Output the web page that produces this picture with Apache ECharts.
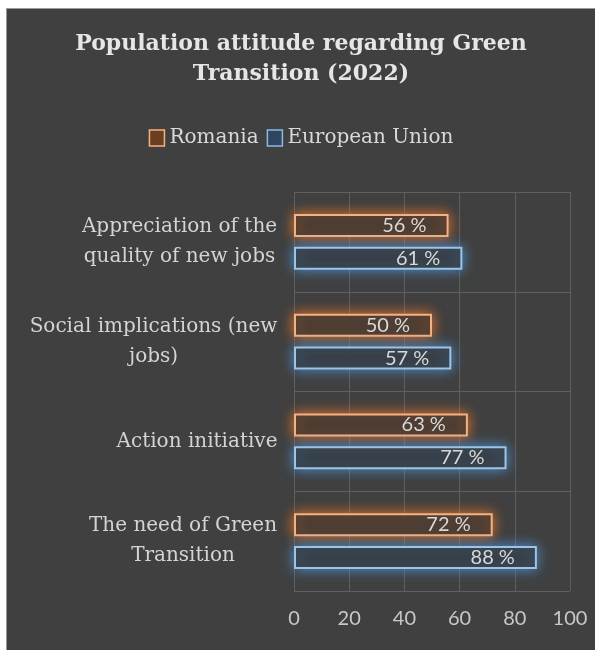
<!DOCTYPE html>
<html>
<head>
<meta charset="utf-8">
<script src="https://cdn.jsdelivr.net/npm/echarts@6/dist/echarts.min.js"></script>
<style>
  html, body { margin: 0; padding: 0; background: #ffffff; }
  #chart {
    position: absolute; left: 6px; top: 8px;
    width: 589px; height: 642px;
    box-sizing: border-box; border-left: 1px solid #9a9a9a; border-top: 1px solid #9a9a9a;
  }
</style>
</head>
<body>
<div id="chart"></div>
<script>
// Survey topics, listed bottom to top as the category axis runs
const categories = [
  'The need of Green\nTransition',
  'Action initiative',
  'Social implications (new\njobs)',
  'Appreciation of the\nquality of new jobs'
];
const romania = [72, 63, 50, 56];
const europeanUnion = [88, 77, 57, 61];
const xTicks = [0, 20, 40, 60, 80, 100];

const serif = '"DejaVu Serif", serif';
const sans = 'Lato, "Open Sans", sans-serif';
const catFontSize = 20;

// Each wrapped category label is a block whose lines are centred on one another;
// the block itself stays right-aligned against the axis.
const measureCtx = document.createElement('canvas').getContext('2d');
measureCtx.font = catFontSize + 'px "DejaVu Serif"';
const catRich = {};
categories.forEach((c, i) => {
  const w = Math.max(...c.split('\n').map(line => measureCtx.measureText(line).width));
  catRich['c' + i] = {
    width: Math.ceil(w) + 1,
    align: 'center',
    color: '#d4d4d4',
    fontFamily: serif,
    fontSize: catFontSize,
    lineHeight: 30
  };
});

function barSeries(name, data, edge, glow) {
  return {
    name: name,
    type: 'bar',
    data: data,
    barWidth: 23,
    barGap: '43%',
    itemStyle: {
      color: 'rgba(52,52,52,0.92)',
      borderColor: edge,
      borderWidth: 2,
      shadowColor: glow,
      shadowBlur: 13
    },
    label: {
      show: true,
      position: 'insideRight',
      distance: 22,
      formatter: p => p.value + ' %',
      color: '#d9d9d9',
      fontFamily: sans,
      fontSize: 20
    }
  };
}

const chart = echarts.init(document.getElementById('chart'));
chart.setOption({
  backgroundColor: '#404040',
  animation: false,
  title: {
    text: 'Population attitude regarding Green\nTransition (2022)',
    left: 'center',
    top: 15,
    textStyle: {
      color: '#e6e6e6',
      fontFamily: serif,
      fontWeight: 'bold',
      fontSize: 22,
      lineHeight: 30
    }
  },
  legend: {
    top: 114,
    left: 'center',
    icon: 'rect',
    itemWidth: 15,
    itemHeight: 16,
    itemGap: 8,
    textStyle: { color: '#d9d9d9', fontFamily: serif, fontSize: 20 },
    data: [
      { name: 'Romania', itemStyle: { color: '#6b3e22', borderColor: '#f4b183', borderWidth: 1.5 } },
      { name: 'European Union', itemStyle: { color: '#2d4560', borderColor: '#8fb8e0', borderWidth: 1.5 } }
    ]
  },
  grid: { left: 287, right: 25, top: 183, bottom: 59 },
  xAxis: {
    type: 'value',
    min: xTicks[0],
    max: xTicks[xTicks.length - 1],
    interval: 20,
    axisLine: { show: false },
    axisTick: { show: false },
    splitLine: { show: true, lineStyle: { color: '#5f5f5f', width: 1 } },
    axisLabel: { color: '#c8c8c8', fontFamily: sans, fontSize: 20, margin: 18 }
  },
  yAxis: {
    type: 'category',
    data: categories,
    axisLine: { show: false },
    axisTick: { show: false },
    splitLine: { show: true, lineStyle: { color: '#5f5f5f', width: 1 } },
    axisLabel: {
      margin: 16,
      align: 'right',
      formatter: (value, index) => value.split('\n').map(line => '{c' + index + '|' + line + '}').join('\n'),
      rich: catRich
    }
  },
  series: [
    barSeries('Romania', romania, '#f4b183', '#f07a2a'),
    barSeries('European Union', europeanUnion, '#9dc3e6', '#4f95d8')
  ]
});
</script>
</body>
</html>
